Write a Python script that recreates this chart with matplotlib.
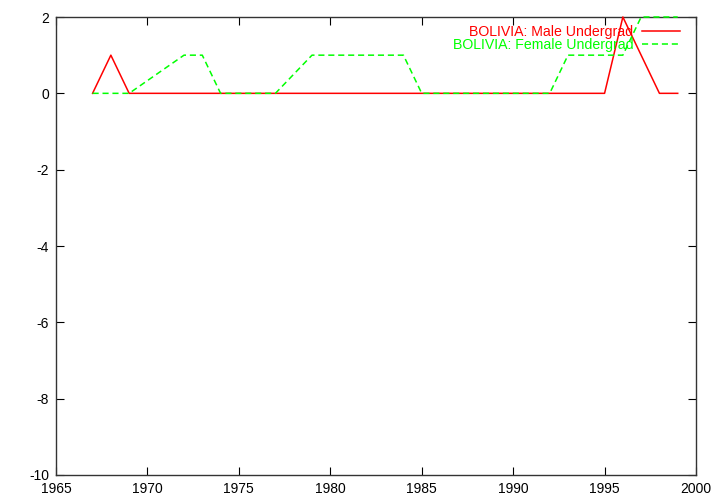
import matplotlib
matplotlib.use("Agg")
import matplotlib.pyplot as plt

plt.rcParams['font.family'] = ['Liberation Sans', 'DejaVu Sans']
plt.rcParams['axes.unicode_minus'] = False

# data
male_years = list(range(1967, 2000))
male_vals = [0, 1, 0] + [0] * 26 + [2, 1, 0, 0]

female_years = [1967, 1968, 1969, 1972, 1973, 1974, 1975, 1976, 1977,
                1979, 1980, 1981, 1982, 1983, 1984, 1985, 1986, 1987,
                1988, 1989, 1990, 1991, 1992, 1993, 1994, 1995, 1996,
                1997, 1998, 1999]
female_vals = [0, 0, 0, 1, 1, 0, 0, 0, 0,
               1, 1, 1, 1, 1, 1, 0, 0, 0,
               0, 0, 0, 0, 0, 1, 1, 1, 1,
               2, 2, 2]

xticks = [1965, 1970, 1975, 1980, 1985, 1990, 1995, 2000]
yticks = [2, 0, -2, -4, -6, -8, -10]

fig = plt.figure(figsize=(7.2, 5.04), dpi=100)
ax = fig.add_axes([56 / 720, 1 - 475 / 504, 640 / 720, 458 / 504])

ax.plot(male_years, male_vals, color='#ff0000', lw=1.1, zorder=5,
        clip_on=False, label='BOLIVIA: Male Undergrad')
ax.plot(female_years, female_vals, color='#00ff00', lw=1.1, zorder=5,
        clip_on=False, dashes=(4, 2.5), label='BOLIVIA: Female Undergrad')

ax.set_xlim(1965, 2000)
ax.set_ylim(-10, 2)
ax.set_xticks(xticks)
ax.set_yticks(yticks)
ax.tick_params(direction='in', length=6, top=True, right=True,
               labelsize=10, colors='black', pad=5)
for s in ax.spines.values():
    s.set_linewidth(1.0)
    s.set_color('#333333')

leg = ax.legend(loc='upper right', frameon=False, markerfirst=False,
                labelcolor='linecolor', fontsize=10.2, handlelength=2.7,
                handletextpad=0.6, labelspacing=-0.05,
                borderaxespad=0.0, bbox_to_anchor=(0.984, 0.995))
for t in leg.get_texts():
    t.set_ha('right')

fig.savefig('out.png', dpi=100)
